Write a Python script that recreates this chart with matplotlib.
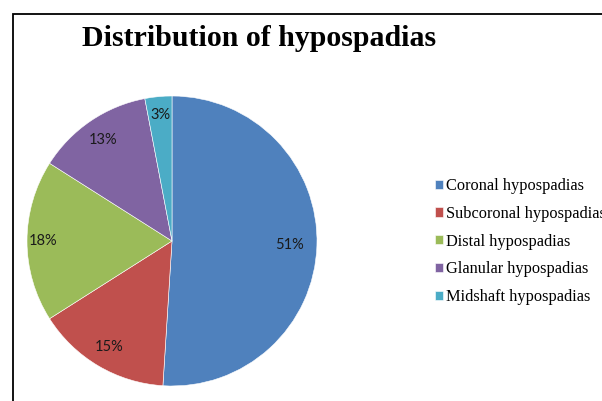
import numpy as np
import matplotlib.pyplot as plt
from matplotlib.patches import Rectangle

labels = ["Coronal hypospadias", "Subcoronal hypospadias", "Distal hypospadias",
          "Glanular hypospadias", "Midshaft hypospadias"]
shares = [51, 15, 18, 13, 3]
colors = ["#4F81BD", "#C0504D", "#9BBB59", "#8064A2", "#4BACC6"]
# Excel "best fit" puts the labels at slightly different radii
label_dist = [0.81, 0.85, 0.89, 0.84, 0.87]

W, H = 602, 401
fig = plt.figure(figsize=(W / 100, H / 100), dpi=100)

# frame around the chart (cut off at right and bottom, like the screenshot)
fig.patches.append(Rectangle((13 / W, -0.1), 1.2, (H - 14) / H + 0.1,
                             transform=fig.transFigure, fill=False,
                             edgecolor="black", linewidth=1.3))

cx, cy, r = 172, 241, 145
ax = fig.add_axes([(cx - r) / W, (H - cy - r) / H, 2 * r / W, 2 * r / H])
wedges, texts, autotexts = ax.pie(
    shares, colors=colors, startangle=90, counterclock=False,
    autopct="%d%%", pctdistance=0.85,
    wedgeprops=dict(edgecolor="white", linewidth=0.4),
    textprops=dict(family="Lato", fontsize=10.5, color="#1a1a1a"))
for w, t, d in zip(wedges, autotexts, label_dist):
    a = np.deg2rad((w.theta1 + w.theta2) / 2)
    t.set_position((d * np.cos(a), d * np.sin(a)))
ax.set_xlim(-1, 1)
ax.set_ylim(-1, 1)
ax.set_aspect("equal")

fig.text(259 / W, 1 - 38 / H, "Distribution of hypospadias", ha="center", va="center",
         family="Liberation Serif", fontweight="bold", fontsize=21.5)

fig.legend(wedges, labels, loc="upper left", bbox_to_anchor=(435 / W, 1 - 178 / H),
           frameon=False, prop=dict(family="Liberation Serif", size=11.8),
           handlelength=0.5, handleheight=0.5, handletextpad=0.2,
           labelspacing=0.72, borderaxespad=0, borderpad=0)

fig.savefig("out.png", dpi=100)
